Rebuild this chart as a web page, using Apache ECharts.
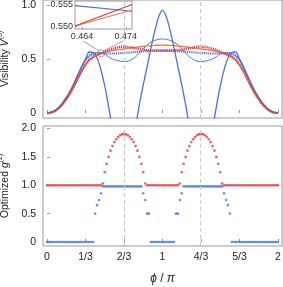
<!DOCTYPE html>
<html><head><meta charset="utf-8">
<script src="https://cdn.jsdelivr.net/npm/echarts@6/dist/echarts.min.js"></script>
<style>html,body{margin:0;padding:0;background:#fff}#c{width:283px;height:287px}</style>
</head><body><div id="c"></div>
<script>
// ---- tick labels ----
const xTickValues = [0, 1/3, 2/3, 1, 4/3, 5/3, 2];
const xTickLabels = ['0', '1/3', '2/3', '1', '4/3', '5/3', '2'];
const topYTicks = [0, 0.5, 1.0];
const botYTicks = [0, 0.5, 1.0, 1.5, 2.0];
const insetXTicks = [0.464, 0.474];
const insetYTicks = [0.550, 0.555];
const dashedPhi = [2/3, 4/3];

// ---- top panel: visibility curves, sampled at phi/pi = k/30 ----
const visA = [0,0.005,0.02,0.05,0.09,0.14,0.20,0.27,0.35,0.43,0.50,0.565,0.56,0.51,0.40,0.25,0.06,-0.15,-0.35,-0.48,-0.52,-0.48,-0.34,-0.13,0.08,0.26,0.43,0.60,0.76,0.89,0.95,
  0.89,0.76,0.60,0.43,0.26,0.08,-0.13,-0.34,-0.48,-0.52,-0.48,-0.35,-0.15,0.06,0.25,0.40,0.51,0.56,0.565,0.50,0.43,0.35,0.27,0.20,0.14,0.09,0.05,0.02,0.005,0];
const visB = [0,0.005,0.02,0.05,0.09,0.14,0.20,0.27,0.35,0.43,0.49,0.53,0.55,0.558,0.554,0.545,0.52,0.50,0.488,0.48,0.476,0.48,0.495,0.52,0.555,0.595,0.63,0.655,0.672,0.682,0.685,
  0.682,0.672,0.655,0.63,0.595,0.555,0.52,0.495,0.48,0.476,0.48,0.488,0.50,0.52,0.545,0.554,0.558,0.55,0.53,0.49,0.43,0.35,0.27,0.20,0.14,0.09,0.05,0.02,0.005,0];
const visC = [0,0.005,0.02,0.05,0.09,0.14,0.20,0.27,0.35,0.42,0.49,0.53,0.548,0.555,0.554,0.552,0.551,0.551,0.552,0.554,0.556,0.558,0.561,0.564,0.567,0.57,0.572,0.574,0.575,0.576,0.576,
  0.576,0.575,0.574,0.572,0.57,0.567,0.564,0.561,0.558,0.556,0.554,0.552,0.551,0.551,0.552,0.554,0.555,0.548,0.53,0.49,0.42,0.35,0.27,0.20,0.14,0.09,0.05,0.02,0.005,0];
const visD = [0,0.004,0.018,0.045,0.08,0.13,0.185,0.25,0.32,0.39,0.45,0.495,0.52,0.537,0.552,0.567,0.582,0.595,0.605,0.612,0.614,0.612,0.606,0.598,0.591,0.586,0.582,0.58,0.579,0.578,0.578,
  0.578,0.579,0.58,0.582,0.586,0.591,0.598,0.606,0.612,0.614,0.612,0.605,0.595,0.582,0.567,0.552,0.537,0.52,0.495,0.45,0.39,0.32,0.25,0.185,0.13,0.08,0.045,0.018,0.004,0];
const visE = [0,0.004,0.017,0.043,0.078,0.125,0.18,0.245,0.315,0.385,0.445,0.49,0.518,0.537,0.551,0.561,0.57,0.577,0.583,0.588,0.593,0.598,0.603,0.608,0.613,0.617,0.621,0.624,0.626,0.627,0.628,
  0.627,0.626,0.624,0.621,0.617,0.613,0.608,0.603,0.598,0.593,0.588,0.583,0.577,0.57,0.561,0.551,0.537,0.518,0.49,0.445,0.385,0.315,0.245,0.18,0.125,0.078,0.043,0.017,0.004,0];

// ---- inset (zoom near phi/pi ~ 0.47) ----
const insetPhi = [0.4624, 0.4754];
const insetBlue = [0.5548, 0.5535];
const insetRed = [0.5500, 0.5551];
const insetOrange = [0.5500, 0.5538];

// ---- bottom panel: optimized g2, sampled at phi/pi = i/60 ----
const g2Red = [1,1,1,1,1,1,1,1,1,1,1,1,1,1,1,1,1,1,1,1,1,1,1,1,1,1,1,1,1,
  1.03,1.23,1.38,1.50,1.61,1.69,1.76,1.81,1.85,1.88,1.90,1.90,1.90,1.88,1.85,1.81,1.76,1.69,1.61,1.50,1.38,1.23,1.03,
  1,1,1,1,1,1,1,1,1,1,1,1,1,1,1,1,1,
  1.03,1.23,1.38,1.50,1.61,1.69,1.76,1.81,1.85,1.88,1.90,1.90,1.90,1.88,1.85,1.81,1.76,1.69,1.61,1.50,1.38,1.23,1.03,
  1,1,1,1,1,1,1,1,1,1,1,1,1,1,1,1,1,1,1,1,1,1,1,1,1,1,1,1,1];
const g2Blue = [0,0,0,0,0,0,0,0,0,0,0,0,0,0,0,0,0,0,0,0,0,0,0,0,0,
  0.5,0.65,0.74,0.86,0.98,
  0.98,0.98,0.98,0.98,0.98,0.98,0.98,0.98,0.98,0.98,0.98,0.98,0.98,0.98,0.98,0.98,0.98,0.98,0.98,0.98,
  0.86,0.74,0.5,0.5,
  0,0,0,0,0,0,0,0,0,0,0,0,0,
  0.5,0.5,0.74,0.86,
  0.98,0.98,0.98,0.98,0.98,0.98,0.98,0.98,0.98,0.98,0.98,0.98,0.98,0.98,0.98,0.98,0.98,0.98,0.98,0.98,
  0.98,0.86,0.74,0.65,0.5,
  0,0,0,0,0,0,0,0,0,0,0,0,0,0,0,0,0,0,0,0,0,0,0,0,0];

const BLUE = '#4470ee', RED = '#e8353b', ORANGE = '#f07d3c';
const pairsTop = arr => arr.map((v, k) => [k / 30, v]);
const pairsBot = arr => arr.map((v, i) => [i / 60, v]);
const pairsInset = arr => arr.map((v, k) => [insetPhi[k], v]);

const FONT = 'Liberation Sans';
const frac = v => { for (let i = 0; i < xTickValues.length; i++) if (Math.abs(v - xTickValues[i]) < 1e-6) return xTickLabels[i]; return ''; };
const yFmt = v => (Math.abs(v) < 1e-9 ? '0' : v.toFixed(1));
const tickStyle = { lineStyle: { color: '#999', width: 1 } };

const chart = echarts.init(document.getElementById('c'), null, { renderer: 'canvas' });
const dashLine = {
  silent: true, symbol: 'none', label: { show: false },
  lineStyle: { color: '#c8c8c8', type: [4, 3], width: 1.2 },
  data: dashedPhi.map(x => ({ xAxis: x }))
};
const option = {
  animation: false,
  textStyle: { fontFamily: FONT },
  grid: [
    { left: 43, top: 0, width: 239, height: 118, show: true, borderColor: '#999', borderWidth: 1, z: 0, outerBoundsMode: 'none', containLabel: false },
    { left: 75, top: 1, width: 57, height: 28, show: true, backgroundColor: '#fff', borderColor: '#999', borderWidth: 1, z: 5, outerBoundsMode: 'none', containLabel: false },
    { left: 43, top: 126, width: 239, height: 120, show: true, borderColor: '#999', borderWidth: 1, z: 0, outerBoundsMode: 'none', containLabel: false }
  ],
  xAxis: [
    { gridIndex: 0, type: 'value', min: -0.035, max: 2.035, axisLine: { show: false }, splitLine: { show: false },
      axisTick: { inside: true, length: 3, customValues: xTickValues, ...tickStyle }, axisLabel: { show: false } },
    { gridIndex: 1, type: 'value', min: insetPhi[0], max: insetPhi[1], axisLine: { show: false }, splitLine: { show: false }, z: 6,
      axisTick: { inside: true, length: 2, customValues: insetXTicks, ...tickStyle },
      axisLabel: { customValues: insetXTicks, formatter: v => v.toFixed(3), fontSize: 9, color: '#333', margin: 3, hideOverlap: false } },
    { gridIndex: 2, type: 'value', min: -0.035, max: 2.035, axisLine: { show: false }, splitLine: { show: false },
      axisTick: { inside: true, length: 3, customValues: xTickValues, ...tickStyle },
      axisLabel: { customValues: xTickValues, formatter: frac, fontSize: 10.5, color: '#222', margin: 6 },
      name: '{i|ϕ} / {i|π}', nameLocation: 'middle', nameGap: 27,
      nameTextStyle: { rich: { i: { fontSize: 12, fontStyle: 'italic', color: '#222', fontFamily: FONT } }, fontSize: 12, color: '#222' } }
  ],
  yAxis: [
    { gridIndex: 0, type: 'value', min: -0.046, max: 1.046, axisLine: { show: false }, splitLine: { show: false },
      axisTick: { inside: true, length: 3, customValues: topYTicks, ...tickStyle },
      axisLabel: { customValues: topYTicks, formatter: yFmt, fontSize: 10.5, color: '#222', margin: 7 },
      name: '{a|Visibility }{v|V}{s|(3)}', nameLocation: 'middle', nameRotate: 90, nameGap: 30,
      nameTextStyle: { rich: {
        a: { fontSize: 10.5, color: '#222', fontFamily: FONT, lineHeight: 14, verticalAlign: 'bottom' },
        v: { fontSize: 10.5, color: '#222', fontStyle: 'italic', fontFamily: FONT, lineHeight: 14, verticalAlign: 'bottom' },
        s: { fontSize: 7, color: '#222', fontFamily: FONT, lineHeight: 14, verticalAlign: 'top' } } } },
    { gridIndex: 1, type: 'value', min: 0.5493, max: 0.5559, axisLine: { show: false }, splitLine: { show: false }, z: 6,
      axisTick: { inside: true, length: 2, customValues: insetYTicks, ...tickStyle },
      axisLabel: { customValues: insetYTicks, formatter: v => v.toFixed(3), fontSize: 9, color: '#333', margin: 2 } },
    { gridIndex: 2, type: 'value', min: -0.07, max: 2.044, axisLine: { show: false }, splitLine: { show: false },
      axisTick: { inside: true, length: 3, customValues: botYTicks, ...tickStyle },
      axisLabel: { customValues: botYTicks, formatter: yFmt, fontSize: 10.5, color: '#222', margin: 7 },
      name: '{a|Optimized }{v|g}{s|(2)}', nameLocation: 'middle', nameRotate: 90, nameGap: 30,
      nameTextStyle: { rich: {
        a: { fontSize: 10.5, color: '#222', fontFamily: FONT, lineHeight: 14, verticalAlign: 'bottom' },
        v: { fontSize: 10.5, color: '#222', fontStyle: 'italic', fontFamily: FONT, lineHeight: 14, verticalAlign: 'bottom' },
        s: { fontSize: 7, color: '#222', fontFamily: FONT, lineHeight: 14, verticalAlign: 'top' } } } }
  ],
  series: [
    { type: 'line', xAxisIndex: 0, yAxisIndex: 0, data: pairsTop(visB), showSymbol: false, smooth: 0.3, z: 2,
      lineStyle: { color: BLUE, width: 1 }, markLine: dashLine },
    { type: 'line', xAxisIndex: 0, yAxisIndex: 0, data: pairsTop(visE), showSymbol: false, smooth: 0.3, z: 2,
      lineStyle: { color: ORANGE, width: 1.4 } },
    { type: 'line', xAxisIndex: 0, yAxisIndex: 0, data: pairsTop(visC), showSymbol: false, smooth: 0.3, z: 2,
      lineStyle: { color: BLUE, width: 2, type: [1.2, 0.9] } },
    { type: 'line', xAxisIndex: 0, yAxisIndex: 0, data: pairsTop(visA), showSymbol: false, smooth: 0.3, z: 3,
      lineStyle: { color: BLUE, width: 1.3 } },
    { type: 'line', xAxisIndex: 0, yAxisIndex: 0, data: pairsTop(visD), showSymbol: false, smooth: 0.3, z: 3,
      lineStyle: { color: RED, width: 2.4, type: [1.2, 0.9] } },
    { type: 'line', xAxisIndex: 1, yAxisIndex: 1, data: pairsInset(insetBlue), showSymbol: false, z: 7,
      lineStyle: { color: BLUE, width: 1.1 } },
    { type: 'line', xAxisIndex: 1, yAxisIndex: 1, data: pairsInset(insetOrange), showSymbol: false, z: 7,
      lineStyle: { color: ORANGE, width: 1.1 } },
    { type: 'line', xAxisIndex: 1, yAxisIndex: 1, data: pairsInset(insetRed), showSymbol: false, z: 7,
      lineStyle: { color: RED, width: 1.1 } },
    { type: 'scatter', xAxisIndex: 2, yAxisIndex: 2, data: pairsBot(g2Red), symbol: 'circle', symbolSize: 2.6, z: 3,
      itemStyle: { color: RED }, markLine: dashLine },
    { type: 'scatter', xAxisIndex: 2, yAxisIndex: 2, data: pairsBot(g2Blue), symbol: 'circle', symbolSize: 2.6, z: 3,
      itemStyle: { color: BLUE } }
  ]
};
chart.setOption(option);

// circle marking the zoomed region and leader lines to inset tick labels
const zoomCenter = [0.469, 0.553];
const c = chart.convertToPixel({ gridIndex: 0 }, zoomCenter);
const l1 = chart.convertToPixel({ gridIndex: 1 }, [insetXTicks[0], 0.5493]);
const l2 = chart.convertToPixel({ gridIndex: 1 }, [insetXTicks[1], 0.5493]);
const r = 3.5;
chart.setOption({ graphic: [
  { type: 'circle', shape: { cx: c[0], cy: c[1], r: r }, style: { fill: 'none', stroke: '#888', lineWidth: 0.8 }, z: 10 },
  { type: 'line', shape: { x1: l1[0] + 1, y1: l1[1] + 12, x2: c[0] - 2.5, y2: c[1] - 2.5 }, style: { stroke: '#888', lineWidth: 0.8 }, z: 10 },
  { type: 'line', shape: { x1: l2[0] - 3, y1: l2[1] + 12, x2: c[0] + 2.5, y2: c[1] - 2.5 }, style: { stroke: '#888', lineWidth: 0.8 }, z: 10 }
] });
</script>
</body></html>
